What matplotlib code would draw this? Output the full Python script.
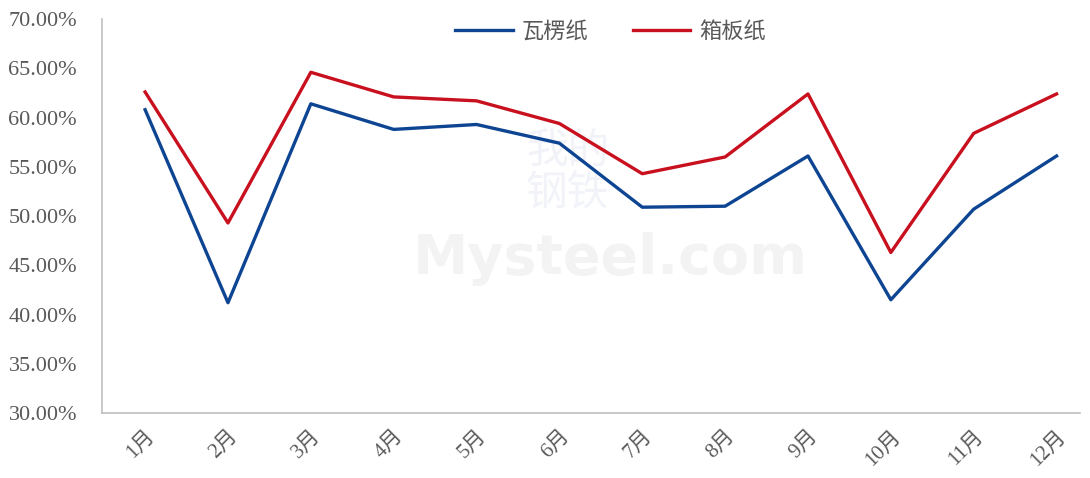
import matplotlib
matplotlib.use('Agg')
from matplotlib import pyplot as plt
from matplotlib.ticker import FuncFormatter

plt.rcParams['font.family'] = ['Liberation Serif', 'Noto Sans CJK SC']

months = ['1月', '2月', '3月', '4月', '5月', '6月', '7月', '8月', '9月', '10月', '11月', '12月']
wali = [60.8, 41.2, 61.4, 58.8, 59.3, 57.4, 50.9, 51.0, 56.1, 41.5, 50.7, 56.1]    # 瓦楞纸
xiangban = [62.6, 49.3, 64.6, 62.1, 61.7, 59.4, 54.3, 56.0, 62.4, 46.3, 58.4, 62.4]  # 箱板纸

fig = plt.figure(figsize=(10.9, 4.78), dpi=100)
ax = fig.add_axes([0.0936, 0.136, 0.897, 0.824])

x = list(range(len(months)))
ax.plot(x, wali, color='#0e4592', linewidth=2.4, label='瓦楞纸')
ax.plot(x, xiangban, color='#c8101f', linewidth=2.4, label='箱板纸')

# faint watermark
ax.text(0.52, 0.39, 'Mysteel.com', transform=ax.transAxes, fontsize=40, fontweight='bold',
        family='DejaVu Sans', color='#f3f3f3', ha='center', va='center', zorder=0)
ax.text(0.476, 0.61, '我的\n钢铁', transform=ax.transAxes, fontsize=30, linespacing=1.0,
        family='Noto Sans CJK SC', color='#f1f3f8', ha='center', va='center', zorder=0)

ax.set_xlim(-0.52, 11.28)
ax.set_ylim(30, 70)
ax.set_yticks([30, 35, 40, 45, 50, 55, 60, 65, 70])
ax.yaxis.set_major_formatter(FuncFormatter(lambda v, p: '%.2f%%' % v))
ax.set_xticks(x)
ax.set_xticklabels(months, rotation=45, ha='right', rotation_mode='anchor')

for s in ['top', 'right']:
    ax.spines[s].set_visible(False)
for s in ['left', 'bottom']:
    ax.spines[s].set_color('#bfbfbf')
    ax.spines[s].set_linewidth(1.2)
ax.tick_params(axis='both', length=0, labelcolor='#595959')
ax.tick_params(axis='y', labelsize=16, pad=18)
ax.tick_params(axis='x', labelsize=15, pad=10)

ax.legend(loc='upper center', bbox_to_anchor=(0.52, 1.045), ncol=2, frameon=False,
          fontsize=16, handlelength=2.6, handletextpad=0.4, columnspacing=2.0,
          labelcolor='#595959')

fig.savefig('out.png', dpi=100)
